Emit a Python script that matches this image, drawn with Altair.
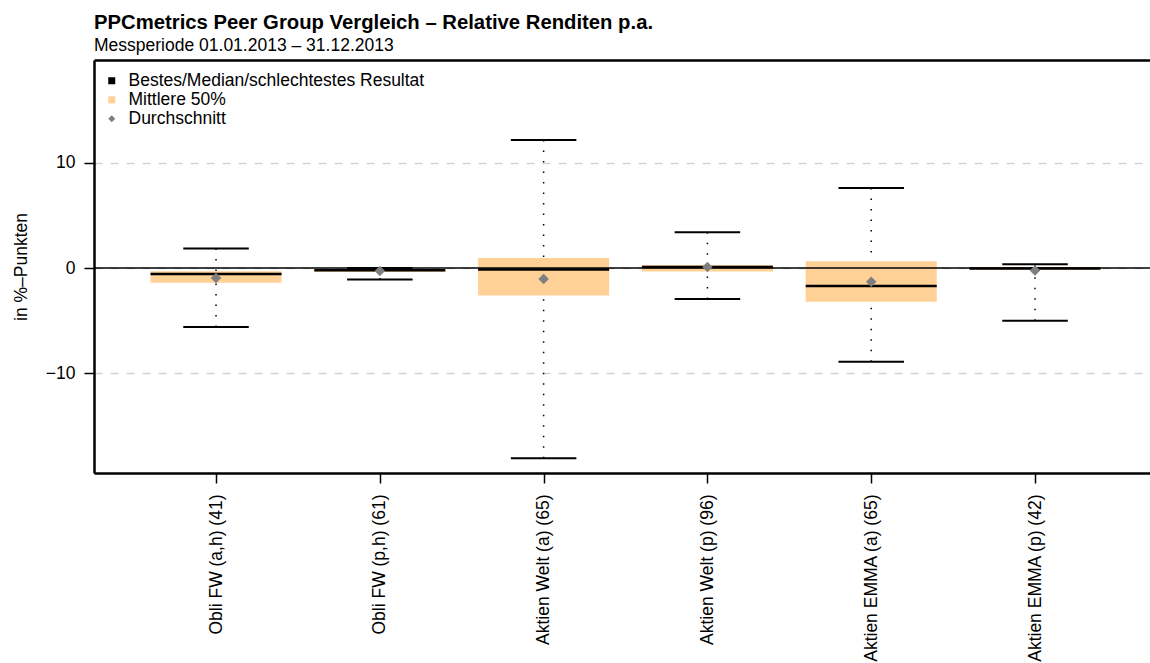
import altair as alt
import pandas as pd

# Peer groups (number of portfolios in brackets)
categories = [
    "Obli FW (a,h) (41)",
    "Obli FW (p,h) (61)",
    "Aktien Welt (a) (65)",
    "Aktien Welt (p) (96)",
    "Aktien EMMA (a) (65)",
    "Aktien EMMA (p) (42)",
]

# Relative returns p.a. in percentage points
best = [1.85, 0.0, 12.15, 3.4, 7.6, 0.35]
upper_quartile = [-0.3, -0.1, 0.95, 0.28, 0.65, 0.08]
median = [-0.57, -0.2, -0.15, 0.1, -1.7, -0.04]
lower_quartile = [-1.4, -0.38, -2.6, -0.32, -3.2, -0.16]
worst = [-5.6, -1.1, -18.05, -2.95, -8.9, -5.0]
mean = [-0.95, -0.28, -1.05, 0.1, -1.3, -0.23]

y_ticks = [-10, 0, 10]

legend_labels = ["Bestes/Median/schlechtestes Resultat", "Mittlere 50%", "Durchschnitt"]
legend_colors = ["#000000", "#FFD197", "#7F7F7F"]
legend_shapes = ["square", "square", "diamond"]

FONT = "Liberation Sans"
TEXT_SIZE = 17.5
BOX_FILL = "#FFD197"

positions = list(range(1, len(categories) + 1))
df = pd.DataFrame({
    "group": categories,
    "pos": positions,
    "best": best,
    "q75": upper_quartile,
    "median": median,
    "q25": lower_quartile,
    "worst": worst,
    "mean": mean,
})
df["box_l"] = df["pos"] - 0.4
df["box_r"] = df["pos"] + 0.4
df["cap_l"] = df["pos"] - 0.2
df["cap_r"] = df["pos"] + 0.2

legend_df = pd.DataFrame({"label": legend_labels})

x_scale = alt.Scale(domain=[0.255, 6.702], nice=False, zero=False)
y_scale = alt.Scale(domain=[-19.46, 19.75], nice=False, zero=False)

label_array = "[" + ",".join("'" + c + "'" for c in categories) + "]"

bottom_axis = alt.Axis(
    orient="bottom", values=positions, labelExpr=label_array + "[datum.value - 1]",
    labelAngle=270, labelAlign="right", labelBaseline="middle", labelPadding=11,
    labelFontSize=TEXT_SIZE, labelColor="black", labelFont=FONT, labelLimit=0,
    labelOverlap=False, labelFlush=False, labelBound=False,
    tickSize=10, tickWidth=1.5, tickColor="black",
    domainWidth=2.5, domainColor="black", grid=False, title=None,
)
top_axis = alt.Axis(
    orient="top", labels=False, ticks=False, grid=False, title=None,
    domainWidth=2.5, domainColor="black",
)
left_axis = alt.Axis(
    orient="left", values=y_ticks, format="d",
    labelFontSize=TEXT_SIZE, labelColor="black", labelFont=FONT, labelPadding=9,
    tickSize=10, tickWidth=1.5, tickColor="black",
    domainWidth=2.5, domainColor="black",
    grid=True, gridDash=[8, 8], gridColor="#D3D3D3", gridWidth=1.5,
    title="in %\u2013Punkten", titleFontSize=TEXT_SIZE, titleFontWeight="normal",
    titleFont=FONT, titleColor="black", titleX=-68, titleY=206.5,
    titleAlign="center", titleBaseline="alphabetic", titleAngle=270,
)

base = alt.Chart(df)

boxes = base.mark_rect(color=BOX_FILL).encode(
    x=alt.X("box_l:Q", scale=x_scale, axis=bottom_axis),
    x2="box_r:Q",
    y=alt.Y("q25:Q", scale=y_scale, axis=left_axis),
    y2="q75:Q",
)

whisker_style = dict(color="black", strokeWidth=1.5, strokeDash=[1.5, 9])
upper_whisker = base.mark_rule(**whisker_style).encode(
    x=alt.X("pos:Q", scale=x_scale, axis=None),
    y=alt.Y("best:Q", scale=y_scale, axis=None),
    y2="q75:Q",
)
lower_whisker = base.mark_rule(**whisker_style).encode(
    x=alt.X("pos:Q", scale=x_scale, axis=None),
    y=alt.Y("worst:Q", scale=y_scale, axis=None),
    y2="q25:Q",
)

# solid reference line at zero across the whole panel
zero_line = alt.Chart(pd.DataFrame({"zero": [0]})).mark_rule(
    color="black", strokeWidth=1.5
).encode(y=alt.Y("zero:Q", scale=y_scale, axis=None))

best_cap = base.mark_rule(color="black", strokeWidth=2).encode(
    x=alt.X("cap_l:Q", scale=x_scale, axis=top_axis),
    x2="cap_r:Q",
    y=alt.Y("best:Q", scale=y_scale, axis=None),
)
worst_cap = base.mark_rule(color="black", strokeWidth=2).encode(
    x=alt.X("cap_l:Q", scale=x_scale, axis=None),
    x2="cap_r:Q",
    y=alt.Y("worst:Q", scale=y_scale, axis=None),
)
median_line = base.mark_rule(color="black", strokeWidth=2.5).encode(
    x=alt.X("box_l:Q", scale=x_scale, axis=None),
    x2="box_r:Q",
    y=alt.Y("median:Q", scale=y_scale, axis=None),
)
mean_point = base.mark_point(
    shape="diamond", filled=True, color="#7F7F7F", size=110, opacity=1
).encode(
    x=alt.X("pos:Q", scale=x_scale, axis=None),
    y=alt.Y("mean:Q", scale=y_scale, axis=None),
)

legend_spec = alt.Legend(
    title=None, orient="none", legendX=9, legendY=12, padding=0,
    labelFontSize=TEXT_SIZE, labelFont=FONT, labelColor="black", labelOffset=8,
    labelLimit=600, rowPadding=0, symbolSize=49, symbolOpacity=1, symbolStrokeWidth=0,
)
legend_layer = alt.Chart(legend_df).mark_point(filled=True, opacity=0).encode(
    color=alt.Color("label:N", scale=alt.Scale(domain=legend_labels, range=legend_colors),
                    legend=legend_spec),
    shape=alt.Shape("label:N", scale=alt.Scale(domain=legend_labels, range=legend_shapes),
                    legend=legend_spec),
)

chart = alt.layer(
    boxes, upper_whisker, lower_whisker, zero_line, best_cap, worst_cap,
    median_line, mean_point, legend_layer,
).resolve_axis(x="independent", y="independent").properties(
    width=1056,
    height=413,
    autosize=alt.AutoSizeParams(type="none"),
    padding={"left": 94, "top": 60, "right": 0, "bottom": 190},
    title=alt.Title(
        "PPCmetrics Peer Group Vergleich \u2013 Relative Renditen p.a.",
        subtitle="Messperiode 01.01.2013 \u2013 31.12.2013",
        anchor="start", frame="group", font=FONT, fontSize=20.3, fontWeight="bold",
        color="black", subtitleFont=FONT, subtitleFontSize=TEXT_SIZE, subtitleColor="black",
        subtitlePadding=3, offset=6,
    ),
).configure_view(stroke=None).configure(font=FONT)

chart.save("out.html", embed_options={"renderer": "svg", "actions": False})
